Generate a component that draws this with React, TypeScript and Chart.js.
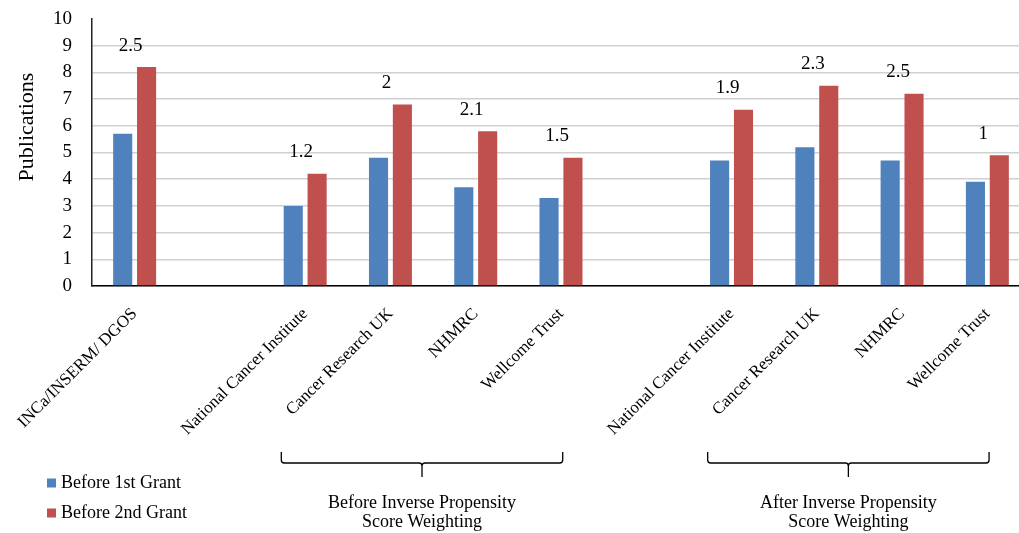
import React, { useEffect, useRef } from "react";
import { Chart, registerables } from "chart.js";

Chart.register(...registerables);

const categories = [
  "INCa/INSERM/ DGOS",
  "",
  "National Cancer Institute",
  "Cancer Research UK",
  "NHMRC",
  "Wellcome Trust",
  "",
  "National Cancer Institute",
  "Cancer Research UK",
  "NHMRC",
  "Wellcome Trust",
];
const before1st: (number | null)[] = [5.7, null, 3.0, 4.8, 3.7, 3.3, null, 4.7, 5.2, 4.7, 3.9];
const before2nd: (number | null)[] = [8.2, null, 4.2, 6.8, 5.8, 4.8, null, 6.6, 7.5, 7.2, 4.9];
const diffLabels: (string | null)[] = ["2.5", null, "1.2", "2", "2.1", "1.5", null, "1.9", "2.3", "2.5", "1"];
const seriesNames = ["Before 1st Grant", "Before 2nd Grant"];
const seriesColors = ["#4F81BD", "#C0504D"];
const groupLabels = [
  ["Before Inverse Propensity", "Score Weighting"],
  ["After Inverse Propensity", "Score Weighting"],
];
const groupFirst = [2, 7];
const groupLast = [5, 10];
const yTitle = "Publications";
const yMin = 0;
const yMax = 10;

const SERIF = "'Liberation Serif', 'Times New Roman', serif";

const overlay = {
  id: "overlay",
  afterDraw(chart: any) {
    const { ctx, chartArea, scales } = chart;
    const x = scales.x;
    const y = scales.y;
    ctx.save();
    // difference labels
    ctx.fillStyle = "#000";
    ctx.font = `19px ${SERIF}`;
    ctx.textAlign = "center";
    ctx.textBaseline = "bottom";
    diffLabels.forEach((t, i) => {
      const v = before2nd[i];
      if (!t || v == null) return;
      const cx = x.getPixelForValue(i) - 4;
      const top = y.getPixelForValue(v);
      ctx.fillText(t, cx, top - 12);
    });

    // group brackets
    const catW = x.width / categories.length;
    const base = chartArea.bottom;
    const hy = base + 177;
    groupFirst.forEach((f, g) => {
      const l = x.getPixelForValue(f) - 0.28 * catW;
      const r = x.getPixelForValue(groupLast[g]) + 0.02 * catW;
      const m = (l + r) / 2;
      ctx.strokeStyle = "#000";
      ctx.lineWidth = 1.3;
      ctx.beginPath();
      ctx.moveTo(l, hy - 11);
      ctx.lineTo(l, hy - 3);
      ctx.quadraticCurveTo(l, hy, l + 3, hy);
      ctx.lineTo(m - 3, hy);
      ctx.quadraticCurveTo(m, hy, m, hy + 3);
      ctx.lineTo(m, hy + 14);
      ctx.moveTo(m, hy + 3);
      ctx.quadraticCurveTo(m, hy, m + 3, hy);
      ctx.lineTo(r - 3, hy);
      ctx.quadraticCurveTo(r, hy, r, hy - 3);
      ctx.lineTo(r, hy - 11);
      ctx.stroke();
      ctx.font = `18px ${SERIF}`;
      ctx.textAlign = "center";
      ctx.textBaseline = "middle";
      ctx.fillStyle = "#000";
      ctx.fillText(groupLabels[g][0], m, base + 217);
      ctx.fillText(groupLabels[g][1], m, base + 236);
    });

    // legend
    ctx.font = `18px ${SERIF}`;
    ctx.textAlign = "left";
    ctx.textBaseline = "middle";
    seriesNames.forEach((name, i) => {
      const cy = base + 197 + i * 30;
      ctx.fillStyle = seriesColors[i];
      ctx.fillRect(47, cy - 4.5, 9, 9);
      ctx.fillStyle = "#000";
      ctx.fillText(name, 61, cy);
    });

    // y title
    ctx.save();
    ctx.translate(27, chartArea.top + 108);
    ctx.rotate(-Math.PI / 2);
    ctx.font = `22px ${SERIF}`;
    ctx.textAlign = "center";
    ctx.textBaseline = "middle";
    ctx.fillStyle = "#000";
    ctx.fillText(yTitle, 0, 0);
    ctx.restore();

    ctx.restore();
  },
};

export default function App() {
  const ref = useRef<HTMLCanvasElement | null>(null);
  useEffect(() => {
    if (!ref.current) return;
    const chart = new Chart(ref.current, {
      type: "bar",
      data: {
        labels: categories,
        datasets: [
          {
            label: seriesNames[0],
            data: before1st,
            backgroundColor: seriesColors[0],
            categoryPercentage: 0.56,
            barPercentage: 0.8,
          },
          {
            label: seriesNames[1],
            data: before2nd,
            backgroundColor: seriesColors[1],
            categoryPercentage: 0.56,
            barPercentage: 0.8,
          },
        ],
      },
      options: {
        responsive: false,
        animation: false,
        devicePixelRatio: 1,
        layout: { padding: { top: 19, right: 15, left: 0, bottom: 0 } },
        plugins: {
          legend: { display: false },
          tooltip: { enabled: false },
        },
        scales: {
          x: {
            grid: { display: false },
            border: { display: true, color: "#000", width: 1.5 },
            ticks: {
              autoSkip: false,
              maxRotation: 45,
              minRotation: 45,
              color: "#000",
              padding: 10,
              font: { family: SERIF, size: 17 },
            },
            afterFit: (scale: any) => {
              scale.height = 247;
            },
          },
          y: {
            min: yMin,
            max: yMax,
            ticks: {
              stepSize: 1,
              autoSkip: false,
              color: "#000",
              padding: 20,
              font: { family: SERIF, size: 19 },
            },
            grid: {
              drawTicks: false,
              color: (c: any) => (c.tick && c.tick.value === yMax ? "rgba(0,0,0,0)" : "#D0D0D0"),
              lineWidth: 1.5,
            },
            border: { display: true, color: "#222", width: 1.5 },
            afterFit: (scale: any) => {
              scale.width = 92;
              scale.paddingTop = 0;
              scale.paddingBottom = 0;
            },
          },
        },
      },
      plugins: [overlay],
    });
    return () => chart.destroy();
  }, []);
  return (
    <div
      style={{
        position: "fixed",
        left: 0,
        top: 0,
        width: 1019,
        height: 533,
        overflow: "hidden",
        background: "#fff",
      }}
    >
      <canvas ref={ref} width={1045} height={533} style={{ width: 1045, height: 533, display: "block" }} />
    </div>
  );
}
